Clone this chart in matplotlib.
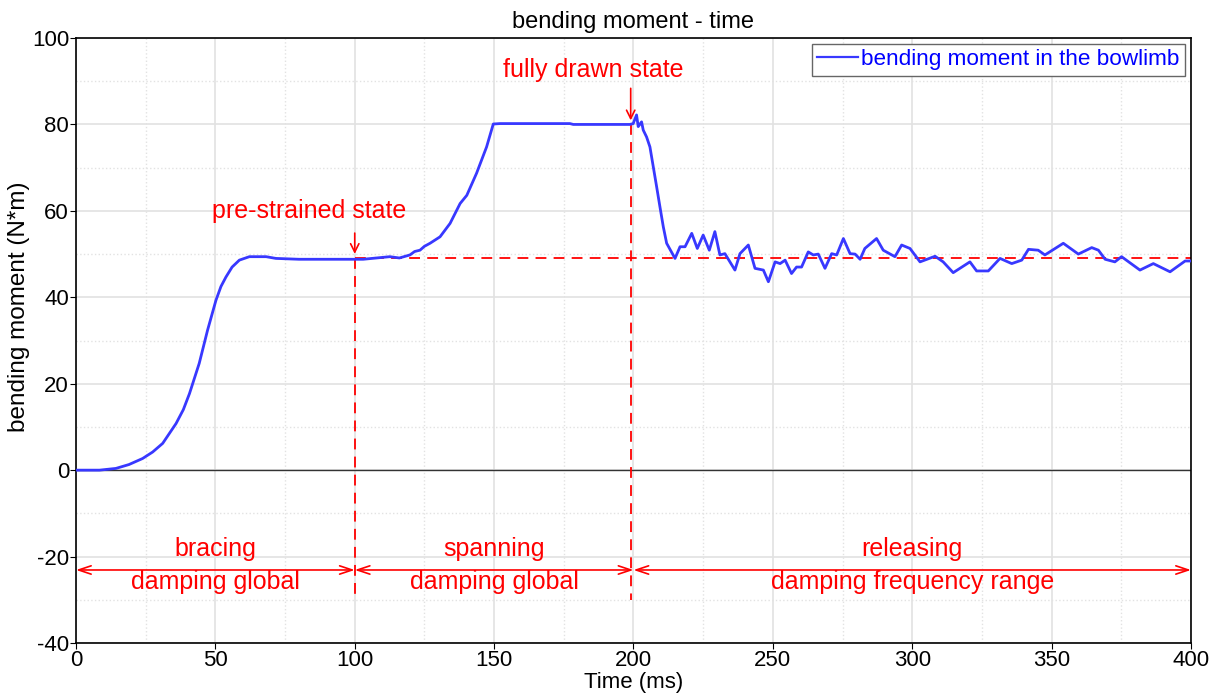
import numpy as np
import matplotlib
matplotlib.use("Agg")
import matplotlib.pyplot as plt
from matplotlib.ticker import MultipleLocator

plt.rcParams['font.family'] = ['Liberation Sans', 'DejaVu Sans']
plt.rcParams['axes.unicode_minus'] = False

# time (ms) / bending moment (N*m)
t_brace = [0, 8.4, 14.3, 19, 23.9, 27.5, 31.1, 35.9, 38.5, 40.7, 44.2, 47.2, 50.2, 52,
           53.8, 56, 58.6, 62.2, 68.2, 71.7, 80, 90, 100]
m_brace = [0, 0, 0.4, 1.3, 2.7, 4.2, 6.2, 10.8, 14.0, 17.7, 24.7, 32.4, 39.3, 42.5,
           44.7, 47.0, 48.6, 49.4, 49.4, 49.0, 48.8, 48.8, 48.8]

t_span = [103, 112.6, 116, 119.8, 121.5, 123.4, 125, 127, 130.6, 134.2, 137.8, 140.2,
          143.7, 147.3, 149.7, 152.1, 177.2, 178.4, 198.7]
m_span = [48.8, 49.4, 49.1, 49.8, 50.6, 50.9, 51.8, 52.5, 54.0, 57.1, 61.7, 63.6,
          68.7, 74.8, 80.1, 80.2, 80.2, 80.0, 80.0]

t_rel = [199.9, 201.1, 201.7, 202.9, 203.5, 204.7, 205.9, 207.1, 208.3, 209.5, 210.7,
         211.9, 214.9, 216.7, 218.5, 220.9, 222.9, 225.0, 227.2, 229.2, 231.0, 232.8,
         236.4, 238.2, 241.2, 243.6, 246.6, 248.4, 250.8, 252.6, 254.4, 256.7, 258.5,
         260.3, 262.7, 264.5, 266.3, 268.7, 271.1, 272.9, 275.3, 277.7, 279.5, 281.3,
         283.0, 287.2, 289.6, 293.8, 296.2, 299.2, 302.8, 308.2, 311.1, 314.7, 320.7,
         323.1, 327.3, 331.5, 335.7, 339.3, 341.7, 345.2, 347.6, 354.2, 359.6, 364.4,
         366.8, 369.2, 372.7, 375.1, 381.7, 386.5, 392.5, 397.9, 400]
m_rel = [80.2, 82.2, 79.5, 80.6, 78.7, 77.1, 74.8, 70.2, 65.6, 60.9, 56.3,
         52.5, 49.0, 51.7, 51.7, 54.8, 51.3, 54.4, 50.9, 55.2, 49.8, 50.1,
         46.3, 50.1, 52.1, 46.7, 46.3, 43.6, 48.2, 47.8, 48.6, 45.5, 47.0,
         47.0, 50.5, 49.8, 50.0, 46.7, 50.1, 49.8, 53.6, 50.1, 50.0, 48.8,
         51.3, 53.6, 50.9, 49.4, 52.1, 51.3, 48.2, 49.5, 48.2, 45.7, 48.2,
         46.1, 46.1, 49.0, 47.8, 48.6, 51.1, 50.9, 49.8, 52.5, 50.0, 51.5,
         50.9, 48.8, 48.2, 49.4, 46.3, 47.8, 45.9, 48.4, 48.4]

time = t_brace + t_span + t_rel
moment = m_brace + m_span + m_rel

level_pre = 49.1
level_full = 80.0
phase_edges = [0, 100, 200, 400]
phase_names = ['bracing', 'spanning', 'releasing']
phase_damping = ['damping global', 'damping global', 'damping frequency range']

red = '#ff0000'
fig = plt.figure(figsize=(12.2, 6.95), dpi=100)
ax = fig.add_axes([0.0623, 0.0748, 0.9139, 0.8705])

ax.set_xlim(0, 400)
ax.set_ylim(-40, 100)
ax.xaxis.set_major_locator(MultipleLocator(50))
ax.xaxis.set_minor_locator(MultipleLocator(25))
ax.yaxis.set_major_locator(MultipleLocator(20))
ax.yaxis.set_minor_locator(MultipleLocator(10))
ax.grid(which='major', color='#e2e2e2', lw=1.2, ls='-')
ax.grid(which='minor', color='#e2e2e2', lw=1.0, ls=':')
ax.set_axisbelow(True)
ax.tick_params(which='major', labelsize=16, length=4, direction='out', pad=1)
ax.tick_params(which='minor', length=0)
for s in ax.spines.values():
    s.set_color('black')
    s.set_linewidth(1.2)

ax.axhline(0, color='#333333', lw=1.0, zorder=1.5)

# reference lines
ax.plot([100, 400], [level_pre, level_pre], color=red, ls=(0, (6, 4)), lw=1.3, zorder=2)
ax.plot([100, 100], [level_pre, -30], color=red, ls=(0, (6, 4)), lw=1.3, zorder=2)
ax.plot([199, 199], [level_full, -30], color=red, ls=(0, (6, 4)), lw=1.3, zorder=2)

ax.plot(time, moment, color='#3838ff', lw=2.0, label='bending moment in the bowlimb', zorder=3)

# state annotations
ax.annotate('', xy=(100, level_pre + 0.3), xytext=(100, 55.5),
            arrowprops=dict(arrowstyle='->,head_length=0.6,head_width=0.3', color=red, lw=1.2))
ax.text(83.5, 57.3, 'pre-strained state', color=red, fontsize=18, ha='center', va='bottom')
ax.annotate('', xy=(199, level_full + 0.3), xytext=(199, 89),
            arrowprops=dict(arrowstyle='->,head_length=0.6,head_width=0.3', color=red, lw=1.2))
ax.text(185.5, 89.8, 'fully drawn state', color=red, fontsize=18, ha='center', va='bottom')

# phase arrows and labels
for i in range(3):
    x0, x1 = phase_edges[i], phase_edges[i + 1]
    ax.annotate('', xy=(x0, -23.1), xytext=(x1, -23.1),
                arrowprops=dict(arrowstyle='<->,head_length=0.9,head_width=0.3',
                                color=red, lw=1.2, shrinkA=0, shrinkB=0))
    xc = (x0 + x1) / 2
    ax.text(xc, -18.3, phase_names[i], color=red, fontsize=18, ha='center', va='center')
    ax.text(xc, -25.9, phase_damping[i], color=red, fontsize=18, ha='center', va='center')

ax.set_title('bending moment - time', fontsize=17, pad=7)
ax.set_xlabel('Time (ms)', fontsize=16, labelpad=1)
ax.set_ylabel('bending moment (N*m)', fontsize=17.5, labelpad=2)
ax.yaxis.set_label_coords(-0.041, 0.555)

leg = ax.legend(loc='upper right', fontsize=16.2, frameon=True, fancybox=False,
                borderpad=0.25, handlelength=1.8, handletextpad=0.15,
                borderaxespad=0.25, labelcolor='#0000ff')
leg.get_frame().set_edgecolor('#666666')
leg.get_frame().set_linewidth(1.0)
leg.get_frame().set_alpha(1)
leg.get_lines()[0].set_linewidth(1.6)

fig.savefig('out.png', dpi=100)
